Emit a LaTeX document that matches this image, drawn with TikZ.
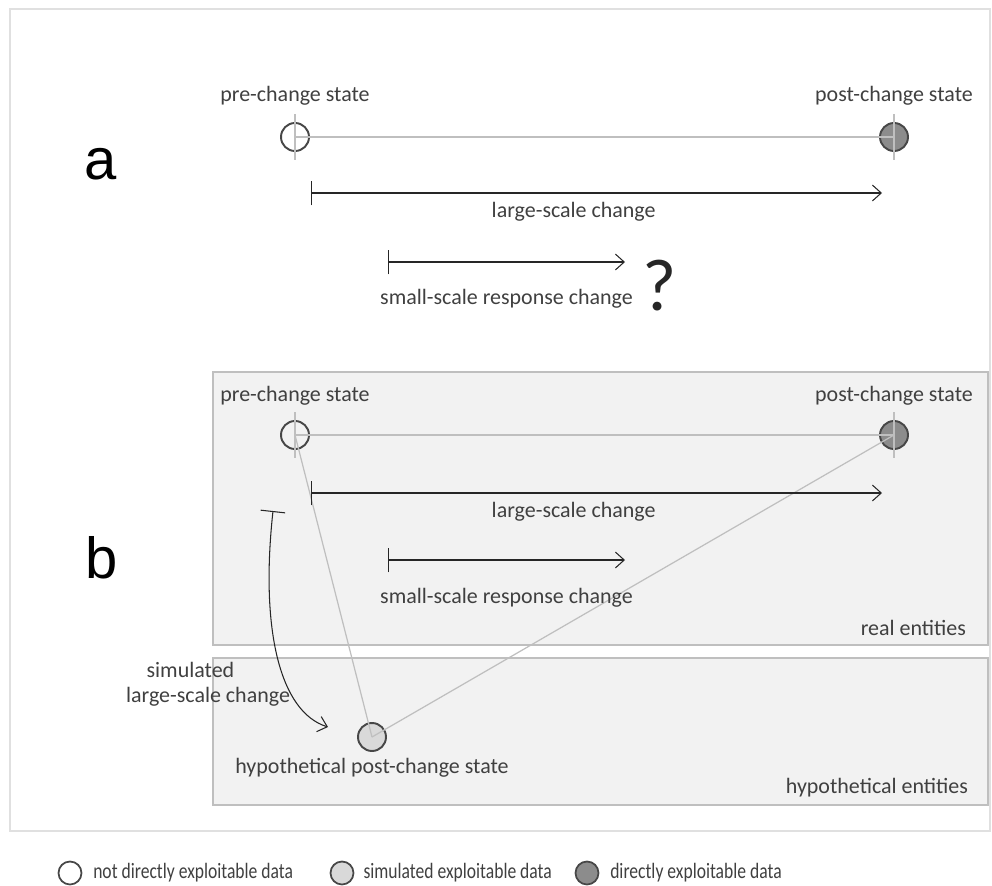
\documentclass[tikz,border=0pt]{standalone}
\usepackage{fontspec}
\setmainfont{Carlito}
\newfontfamily\tagfont{Liberation Sans}
\usetikzlibrary{arrows.meta, positioning}

\definecolor{txtgray}{HTML}{404040}
\definecolor{circgray}{HTML}{474747}
\definecolor{linkgray}{HTML}{BFBFBF}
\definecolor{panelgray}{HTML}{F2F2F2}
\definecolor{postfill}{HTML}{8C8C8C}
\definecolor{hypofill}{HTML}{D9D9D9}

\begin{document}
\begin{tikzpicture}[
    x=0.02cm, y=-0.02cm,
    state/.style={circle, draw=circgray, line width=1.1pt, fill=#1, minimum size=0.56cm, inner sep=0pt},
    keystate/.style={circle, draw=circgray, line width=1pt, fill=#1, minimum width=0.4cm, minimum height=0.46cm, inner sep=0pt},
    link/.style={draw=linkgray, line width=0.7pt},
    span/.style={{Bar[width=14pt]}-{Straight Barb[length=5pt, width=9pt]}, line width=0.6pt, draw=black!85},
    label/.style={font=\fontsize{12.5}{14.5}\selectfont, text=txtgray, align=center, inner sep=1pt},
    panel/.style={draw=black!25, line width=1.1pt, fill=panelgray},
    tag/.style={font=\tagfont\fontsize{33}{36}\selectfont}
]
\useasboundingbox (0,0) rectangle (992,886);
\draw[draw=black!12, line width=1.1pt] (10,9) rectangle (990,831);

% Panel a
\node[tag] (tagA) at (101,164) {a};
\node[state=none] (preA) at (295,137) {};
\node[state=postfill] (postA) at (894,137) {};
\node[label] (preAlab) at (295,96) {pre-change state};
\node[label] (postAlab) at (894,96) {post-change state};
\draw[link] ([yshift=0.46cm]preA.center) -- ([yshift=-0.46cm]preA.center);
\draw[link] ([yshift=0.46cm]postA.center) -- ([yshift=-0.46cm]postA.center);
\draw[link] (preA.center) -- (postA.center);

\coordinate (largeA0) at (311,193);
\coordinate (largeA1) at (882,193);
\draw[span] (largeA0) -- node[label, below=4pt, pos=0.46] {large-scale change} (largeA1);
\coordinate (smallA0) at (388,262);
\coordinate (smallA1) at (625,262);
\draw[span] (smallA0) -- node[label, below=14pt, pos=0.5] {small-scale response change} (smallA1);
\node[font=\fontsize{42}{44}\selectfont, text=black!85] (query) at (660,286) {?};

% Panel b
\draw[panel] (213,372) rectangle (988,645);
\draw[panel] (213,658) rectangle (988,805);
\node[label, anchor=east] (realLab) at (968,628) {real entities};
\node[label, anchor=east] (hypoLab) at (970,788) {hypothetical entities};

\node[tag] (tagB) at (102,558) {b};
\node[state=none] (preB) at (295,435) {};
\node[state=postfill] (postB) at (894,435) {};
\node[state=hypofill] (hypoB) at (372,737) {};
\node[label] (preBlab) at (295,396) {pre-change state};
\node[label] (postBlab) at (894,396) {post-change state};
\node[label] (hypoBlab) at (372,768) {hypothetical post-change state};
\draw[link] ([yshift=0.46cm]preB.center) -- ([yshift=-0.46cm]preB.center);
\draw[link] ([yshift=0.46cm]postB.center) -- ([yshift=-0.46cm]postB.center);
\draw[link] (preB.center) -- (postB.center);
\draw[link] (preB.center) -- (hypoB.center);
\draw[link] (postB.center) -- (hypoB.center);

\coordinate (largeB0) at (311,493);
\coordinate (largeB1) at (882,493);
\draw[span] (largeB0) -- node[label, below=4pt, pos=0.46] {large-scale change} (largeB1);
\coordinate (smallB0) at (388,560);
\coordinate (smallB1) at (625,560);
\draw[span] (smallB0) -- node[label, below=15pt, pos=0.5] {small-scale response change} (smallB1);

\coordinate (simB0) at (273,511);
\coordinate (simB1) at (328,727);
\draw[span] (simB0) .. controls (260,630) and (280,712) .. (simB1);
\node[label] (simLab) at (208,684) {simulated\hspace*{1.6em}\\large-scale change};

% Legend
\node[keystate=white] (keyOpen) at (70,873) {};
\node[label, right=5pt of keyOpen] (keyOpenLab) {\scalebox{0.8}[1]{not directly exploitable data}};
\node[keystate=hypofill] (keySim) at (342,873) {};
\node[label, right=4pt of keySim] (keySimLab) {\scalebox{0.8}[1]{simulated exploitable data}};
\node[keystate=postfill] (keyPost) at (587,873) {};
\node[label, right=5pt of keyPost] (keyPostLab) {\scalebox{0.8}[1]{directly exploitable data}};
\end{tikzpicture}
\end{document}
